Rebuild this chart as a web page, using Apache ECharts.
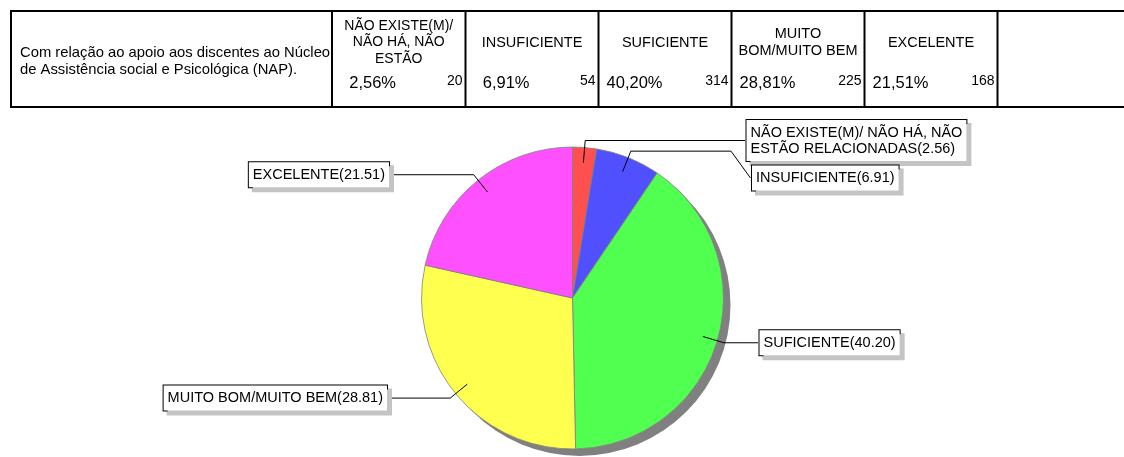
<!DOCTYPE html>
<html>
<head>
<meta charset="utf-8">
<script src="https://cdn.jsdelivr.net/npm/echarts@6/dist/echarts.min.js"></script>
<style>
    html, body {margin: 0; padding: 0; background: #fff;}
    #chart {width: 1124px; height: 457px;}
</style>
</head>
<body>
<div id="chart"></div>
<script>
// dados
var question = ['Com relação ao apoio aos discentes ao Núcleo', 'de Assistência social e Psicológica (NAP).'];
var headers = [['NÃO EXISTE(M)/', 'NÃO HÁ, NÃO', 'ESTÃO'], ['INSUFICIENTE'], ['SUFICIENTE'], ['MUITO', 'BOM/MUITO BEM'], ['EXCELENTE']];
var categories = ['NÃO EXISTE(M)/ NÃO HÁ, NÃO\nESTÃO RELACIONADAS', 'INSUFICIENTE', 'SUFICIENTE', 'MUITO BOM/MUITO BEM', 'EXCELENTE'];
var percents = [2.56, 6.91, 40.20, 28.81, 21.51];
var counts = [20, 54, 314, 225, 168];
var colors = ['#ff5050', '#5050ff', '#50ff50', '#ffff50', '#ff50ff'];

var FONT = '"Liberation Sans", Arial, sans-serif';
var cx = 572.5, cy = 298, R = 151;
var PAD = 4;
// onde fica cada caixa de rótulo (borda da caixa do lado da linha)
var spots = [
    {box: 745, side: 1},
    {box: 750.5, side: 1, y: 178, bend: 731},
    {box: 758, side: 1},
    {box: 388.5, side: -1},
    {box: 390.5, side: -1}
];

var total = 0;
percents.forEach(function (v) { total += v; });

function midDir(i) {
    var acc = 0;
    for (var k = 0; k < i; k++) acc += percents[k];
    var a = (acc + percents[i] / 2) / total * Math.PI * 2;
    return [Math.sin(a), -Math.cos(a)];
}

// tabela de cima
var colEdges = [11, 332, 465.5, 598.5, 731.5, 864.5, 997.5];
var graphics = [];
graphics.push({type: 'rect', shape: {x: 11, y: 11, width: 1130, height: 96}, style: {fill: 'none', stroke: '#000', lineWidth: 2}});
for (var e = 1; e < colEdges.length; e++) {
    graphics.push({type: 'line', shape: {x1: colEdges[e], y1: 11, x2: colEdges[e], y2: 107}, style: {stroke: '#000', lineWidth: 2}});
}
graphics.push({
    type: 'text', x: 20, y: 61,
    style: {text: question.join('\n'), fill: '#000', fontSize: 14.8, fontFamily: FONT, lineHeight: 17, align: 'left', verticalAlign: 'middle'}
});
headers.forEach(function (h, i) {
    var left = colEdges[i + 1], right = colEdges[i + 2];
    graphics.push({
        type: 'text', x: (left + right) / 2, y: 42.5,
        style: {text: h.join('\n'), fill: '#000', fontSize: i === 0 ? 14 : 14.5, fontFamily: FONT, lineHeight: 16.5, align: 'center', verticalAlign: 'middle'}
    });
    graphics.push({
        type: 'text', x: left + 64, y: 83,
        style: {text: percents[i].toFixed(2).replace('.', ',') + '%', fill: '#000', fontSize: 16.5, fontFamily: FONT, align: 'right', verticalAlign: 'middle'}
    });
    graphics.push({
        type: 'text', x: right - 3, y: 81,
        style: {text: String(counts[i]), fill: '#000', fontSize: 14, fontFamily: FONT, align: 'right', verticalAlign: 'middle'}
    });
});

var pieData = categories.map(function (c, i) {
    return {name: c, value: percents[i], itemStyle: {color: colors[i]}};
});
// mesma pizza, transparente, só para os rótulos e linhas ficarem por cima
var labelData = categories.map(function (c, i) {
    return {name: c, value: percents[i]};
});

var chart = echarts.init(document.getElementById('chart'));
chart.setOption({
    animation: false,
    backgroundColor: '#fff',
    graphic: graphics,
    series: [
        {
            // sombra cinza atrás da pizza
            type: 'pie',
            silent: true,
            z: 1,
            center: [cx + 7, cy + 7],
            radius: R,
            label: {show: false},
            labelLine: {show: false},
            itemStyle: {color: '#808080'},
            data: [{value: total}]
        },
        {
            type: 'pie',
            z: 2,
            center: [cx, cy],
            radius: R,
            startAngle: 90,
            clockwise: true,
            label: {show: false},
            labelLine: {show: false},
            itemStyle: {borderColor: '#808080', borderWidth: 0.8},
            data: pieData
        },
        {
            type: 'pie',
            z: 3,
            silent: true,
            center: [cx, cy],
            radius: R,
            startAngle: 90,
            clockwise: true,
            avoidLabelOverlap: false,
            itemStyle: {color: 'rgba(0,0,0,0)', borderWidth: 0},
            label: {
                show: true,
                position: 'outside',
                formatter: function (p) { return p.name + '(' + p.value.toFixed(2) + ')'; },
                color: '#000',
                fontSize: 14.5,
                fontFamily: FONT,
                lineHeight: 16,
                backgroundColor: '#fff',
                borderColor: '#000',
                borderWidth: 1,
                borderRadius: 0,
                padding: [5, PAD, 4, PAD],
                shadowColor: '#c4c4c4',
                shadowBlur: 0,
                shadowOffsetX: 4,
                shadowOffsetY: 4
            },
            labelLine: {show: true, showAbove: true, lineStyle: {color: '#000', width: 1}},
            labelLayout: function (params) {
                var i = params.dataIndex;
                var d = midDir(i);
                var s = spots[i];
                var start = [cx + d[0] * R * 0.9, cy + d[1] * R * 0.9];
                var knee = [cx + d[0] * (R + 7), cy + d[1] * (R + 7)];
                var y = s.y != null ? s.y : knee[1];
                var pts = [start, knee];
                if (s.bend != null) pts.push([s.bend, knee[1]]);
                pts.push([s.box, y]);
                return {
                    x: s.box + s.side * (PAD - 2.5),
                    y: y,
                    align: s.side > 0 ? 'left' : 'right',
                    verticalAlign: 'middle',
                    labelLinePoints: pts
                };
            },
            data: labelData
        }
    ]
});
</script>
</body>
</html>
